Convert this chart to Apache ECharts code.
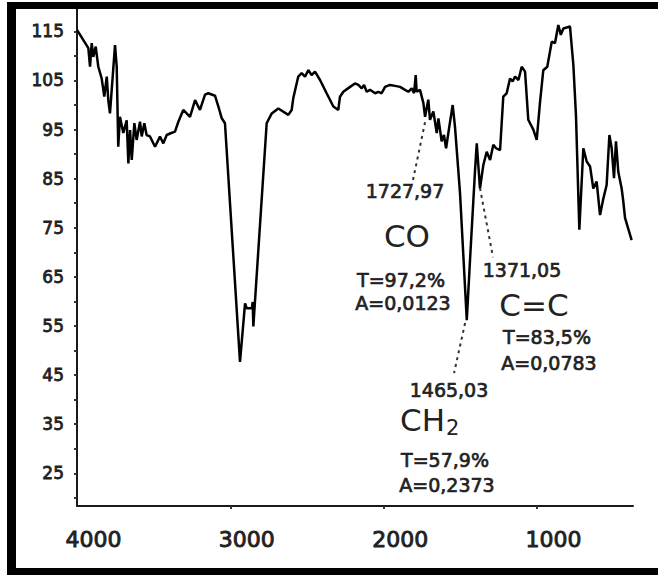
<!DOCTYPE html>
<html>
<head>
<meta charset="utf-8">
<script src="https://cdn.jsdelivr.net/npm/echarts@6/dist/echarts.min.js"></script>
<style>
html,body{margin:0;padding:0;background:#fff;}
#c{width:658px;height:575px;}
</style>
</head>
<body>
<div id="c"></div>
<script>
// Wavenumber (cm-1) and transmittance (%)
var wavenumbers = [4000,3926,3915,3904,3894,3878,3861,3839,3822,3806,3796,3785,3752,3741,3731,3720,3698,3676,3665,3654,3643,3626,3611,3589,3578,3561,3546,3524,3491,3459,3437,3415,3393,3361,3339,3307,3263,3230,3198,3165,3144,3100,3078,3056,3035,2937,2904,2893,2860,2854,2850,2763,2730,2687,2622,2600,2589,2557,2535,2513,2491,2470,2448,2415,2372,2328,2296,2285,2263,2219,2187,2165,2143,2128,2111,2089,2056,2035,2013,1991,1959,1926,1893,1861,1839,1817,1802,1791,1785,1763,1741,1730,1709,1698,1676,1654,1643,1622,1607,1593,1572,1550,1535,1502,1458,1437,1404,1393,1372,1350,1328,1306,1285,1267,1241,1220,1198,1176,1159,1143,1121,1100,1078,1057,1024,1002,980,959,933,904,883,861,845,828,785,763,746,724,698,676,654,633,611,589,567,546,528,513,498,485,470,448,437,426,383];
var transmittance = [115.3,111.6,107.8,112.6,109.8,111.9,107.8,105.4,101.7,105.8,101.0,98.3,112.2,107.8,91.5,97.6,94.3,96.9,88.1,94.9,88.8,96.3,92.9,96.6,93.6,96.3,93.9,93.6,91.5,93.6,92.2,93.9,94.2,94.6,96.6,99.0,97.6,101.0,99.0,102.1,102.4,101.9,99.7,97.3,96.3,47.7,59.6,58.6,58.6,59.9,54.9,96.3,98.3,99.3,98.0,99.0,101.5,105.8,106.5,105.8,107.1,106.1,106.8,105.1,102.4,99.7,99.0,101.7,102.7,103.7,104.4,104.1,103.4,104.1,102.7,103.1,102.4,102.7,102.4,103.7,104.1,103.9,103.7,103.1,102.7,103.4,102.4,106.1,102.7,103.1,100.4,97.6,101.1,97.0,98.7,94.3,97.3,92.6,93.9,91.2,95.6,100.0,95.6,82.0,56.2,68.4,86.8,92.2,83.0,87.8,90.5,88.8,91.9,91.2,90.8,101.7,102.4,105.4,104.8,105.8,105.1,107.8,106.8,97.0,95.0,92.9,100.7,107.1,107.8,112.9,112.6,116.3,114.3,115.6,116.0,108.2,98.0,74.6,91.2,88.5,87.5,83.0,84.4,77.6,81.0,83.7,93.9,91.2,85.1,92.6,86.4,83.0,80.3,77.0,72.5];

// Axis tick labels
var xTickLabels = [4000, 3000, 2000, 1000];
var xTickMarks = [3000, 2000, 1000];
var yTickLabels = [25, 35, 45, 55, 65, 75, 85, 95, 105, 115];
var yTickMarks = [20, 25, 30, 35, 40, 45, 50, 55, 60, 65, 70, 75, 80, 85, 90, 95, 100, 105, 110, 115];

// Peak annotations: leader-line endpoints in data space
var leaderCO = [[1730, 96.5], [1809, 84.7]];
var leaderCC = [[1372, 83.1], [1287, 69.0]];
var leaderCH2 = [[1469, 55.6], [1541, 45.4]];

var seriesData = wavenumbers.map(function (w, i) { return [w, transmittance[i]]; });

var chart = echarts.init(document.getElementById('c'), null, {renderer: 'svg'});
var FONT = '"DejaVu Sans", sans-serif';
var TXT = '#222';

function label(text, x, y, size, sw) {
  return {
    type: 'text', z: 50,
    style: {
      text: text, x: x, y: y,
      font: size + 'px ' + FONT,
      fill: TXT,
      stroke: TXT,
      lineWidth: sw === undefined ? 0.7 : sw,
      align: 'center', verticalAlign: 'middle',
      textAlign: 'center', textVerticalAlign: 'middle'
    }
  };
}

function leader(pts) {
  return [{coord: pts[0]}, {coord: pts[1]}];
}

var option = {
  backgroundColor: '#fff',
  animation: false,
  grid: {left: 77, right: 25, top: 9, bottom: 69, containLabel: false},
  xAxis: {
    type: 'value',
    inverse: true,
    min: 374,
    max: 4000,
    splitLine: {show: false},
    axisLine: {show: true, onZero: false, lineStyle: {color: '#1a1a1a', width: 2}},
    axisTick: {show: true, customValues: xTickMarks, length: 3, lineStyle: {color: '#333', width: 2}},
    axisLabel: {
      customValues: xTickLabels,
      formatter: function (v) { return String(v); },
      fontFamily: FONT, fontSize: 22, color: TXT,
      textBorderColor: TXT, textBorderWidth: 0.9,
      margin: 22,
      padding: [0, 0, 0, 33]
    }
  },
  yAxis: {
    type: 'value',
    min: 18.34,
    max: 119.56,
    splitLine: {show: false},
    axisLine: {show: true, onZero: false, lineStyle: {color: '#1a1a1a', width: 2}},
    axisTick: {show: true, customValues: yTickMarks, length: 3, lineStyle: {color: '#333', width: 2}},
    axisLabel: {
      customValues: yTickLabels,
      formatter: function (v) { return String(v); },
      fontFamily: FONT, fontSize: 17, color: TXT,
      textBorderColor: TXT, textBorderWidth: 0.8,
      margin: 13
    }
  },
  series: [{
    type: 'line',
    data: seriesData,
    showSymbol: false,
    symbol: 'none',
    lineStyle: {color: '#000', width: 2.5},
    markLine: {
      silent: true,
      symbol: ['none', 'none'],
      label: {show: false},
      lineStyle: {color: '#333', width: 2, type: [3, 4]},
      data: [leader(leaderCO), leader(leaderCC), leader(leaderCH2)]
    }
  }],
  graphic: [
    // frame bands (top, left, bottom)
    {type: 'rect', z: 100, shape: {x: 7, y: 2, width: 651, height: 7}, style: {fill: '#000'}},
    {type: 'rect', z: 100, shape: {x: 7, y: 2, width: 9, height: 573}, style: {fill: '#000'}},
    {type: 'rect', z: 100, shape: {x: 7, y: 568, width: 651, height: 7}, style: {fill: '#000'}},
    label('1727,97', 405, 191, 19),
    label('CO', 407, 236, 31, 0),
    label('T=97,2%', 401, 280, 19),
    label('A=0,0123', 403, 303, 19),
    label('1371,05', 522, 270, 19),
    label('C=C', 534, 305, 31, 0),
    label('T=83,5%', 547, 337, 19),
    label('A=0,0783', 549, 363, 19),
    label('1465,03', 449, 390, 19),
    {
      type: 'text', z: 50,
      style: {
        text: '{a|CH}{b|2}', x: 400, y: 404,
        align: 'left', verticalAlign: 'top',
        textAlign: 'left', textVerticalAlign: 'top',
        fill: TXT,
        rich: {
          a: {fontFamily: FONT, fontSize: 31, lineHeight: 24, verticalAlign: 'top', color: TXT},
          b: {fontFamily: FONT, fontSize: 21, lineHeight: 21, verticalAlign: 'top', padding: [13, 0, 0, 1], color: TXT}
        }
      }
    },
    label('T=57,9%', 445, 460, 19),
    label('A=0,2373', 447, 485, 19)
  ]
};
chart.setOption(option);
</script>
</body>
</html>
